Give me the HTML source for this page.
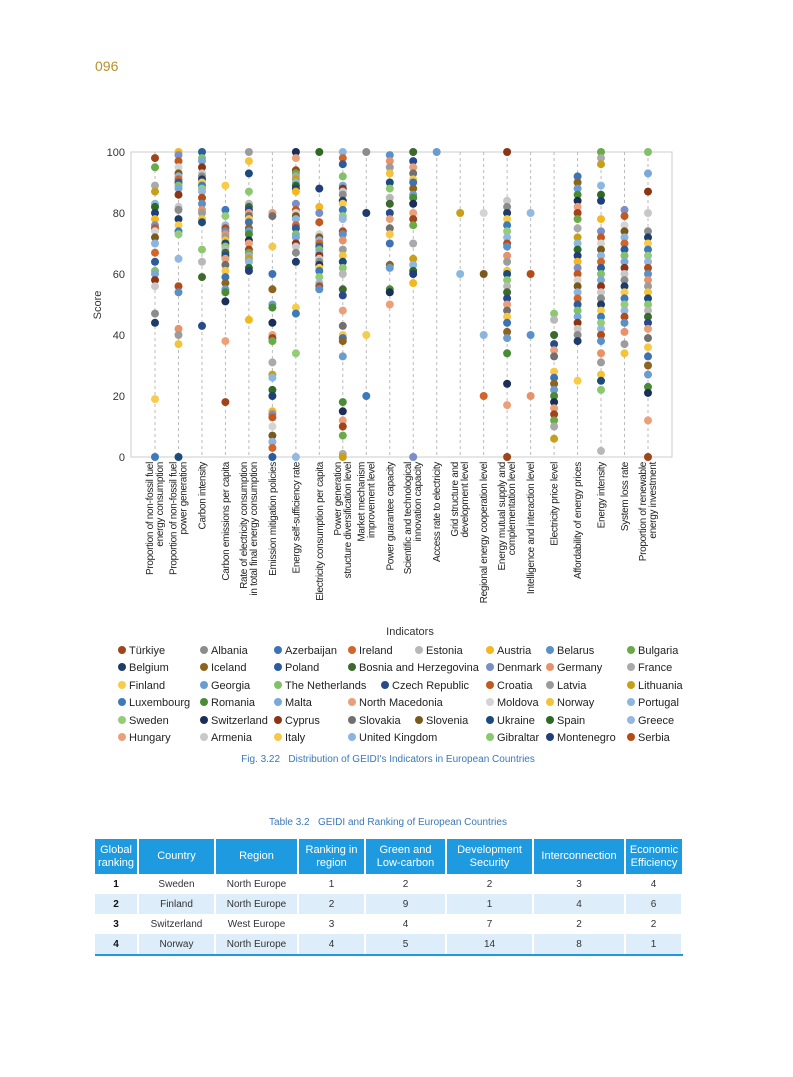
<!DOCTYPE html>
<html><head><meta charset="utf-8">
<style>
body{margin:0;background:#fff;font-family:"Liberation Sans",sans-serif;}
#pg{position:relative;width:793px;height:1077px;overflow:hidden;}
.abs{position:absolute;}
table{border-collapse:collapse;position:absolute;left:95px;top:839px;width:588px;font-size:10px;color:#333;}
th{background:#1e9be0;color:#fff;font-weight:normal;font-size:11px;line-height:13px;height:35px;border-right:2px solid #fff;padding:0;}
th:last-child{border-right:none}
td{text-align:center;height:20px;padding:0;border-right:2px solid #fff;}
tr.b td{background:#ddeefa;}
td:first-child{font-weight:bold;color:#111}
tr:last-child td{border-bottom:2px solid #1e9be0;}
</style></head><body><div id="pg">
<div class="abs" style="left:95px;top:58px;font-size:14px;color:#b8902a;">096</div>
<svg id="ch" class="abs" style="left:0;top:0" width="793" height="760" font-family="Liberation Sans, sans-serif"></svg>
<div class="abs" style="left:0;width:776px;text-align:center;top:754px;font-size:10px;color:#3a78b8;">Fig. 3.22&nbsp;&nbsp;&nbsp;Distribution of GEIDI's Indicators in European Countries</div>
<div class="abs" style="left:0;width:776px;text-align:center;top:817px;font-size:10px;color:#3a78b8;">Table 3.2&nbsp;&nbsp;&nbsp;GEIDI and Ranking of European Countries</div>
<table>
<tr><th style="width:42px">Global<br>ranking</th><th style="width:75px">Country</th><th style="width:81px">Region</th><th style="width:65px">Ranking in<br>region</th><th style="width:79px">Green and<br>Low-carbon</th><th style="width:85px">Development<br>Security</th><th style="width:90px">Interconnection</th><th>Economic<br>Efficiency</th></tr>
<tr><td>1</td><td>Sweden</td><td>North Europe</td><td>1</td><td>2</td><td>2</td><td>3</td><td>4</td></tr>
<tr class="b"><td>2</td><td>Finland</td><td>North Europe</td><td>2</td><td>9</td><td>1</td><td>4</td><td>6</td></tr>
<tr><td>3</td><td>Switzerland</td><td>West Europe</td><td>3</td><td>4</td><td>7</td><td>2</td><td>2</td></tr>
<tr class="b"><td>4</td><td>Norway</td><td>North Europe</td><td>4</td><td>5</td><td>14</td><td>8</td><td>1</td></tr>
</table>
</div>
<script>
var S=document.getElementById('ch'),h='';
var X0=131,X1=672,Y0=457,Y1=152;
function y(v){return Y0-(Y0-Y1)*v/100;}
h+='<rect x="'+X0+'" y="'+Y1+'" width="'+(X1-X0)+'" height="'+(Y0-Y1)+'" fill="none" stroke="#ccc"/>';
for(var t=0;t<=100;t+=20){h+='<text x="125" y="'+(y(t)+4)+'" font-size="11" text-anchor="end" fill="#333">'+t+'</text>';}
h+='<text transform="translate(101,305) rotate(-90)" font-size="11" text-anchor="middle" fill="#333">Score</text>';
h+='<text x="410" y="635" font-size="11" text-anchor="middle" fill="#333">Indicators</text>';
var labs=[["Proportion of non-fossil fuel","energy consumption"],["Proportion of non-fossil fuel","power generation"],["Carbon intensity"],["Carbon emissions per capita"],["Rate of electricity consumption","in total final energy consumption"],["Emission mitigation policies"],["Energy self-sufficiency rate"],["Electricity consumption per capita"],["Power generation","structure diversification level"],["Market mechanism","improvement level"],["Power guarantee capacity"],["Scientific and technological","innovation capacity"],["Access rate to electricity"],["Grid structure and","development level"],["Regional energy cooperation level"],["Energy mutual supply and","complementation level"],["Intelligence and interaction level"],["Electricity price level"],["Affordability of energy prices"],["Energy intensity"],["System loss rate"],["Proportion of renewable","energy investment"]];
var D=[[98,95,89,87,83,82,80,78,76,75,74,72,70,67,64,61,60,58,56,47,44,19,0],
[100,99,97,95,93,92,91,90,89,88,86,82,81,78,76,74,73,65,56,54,42,40,37,0],
[100,98,97,95,93,92,91,90,89,88,87,85,83,81,80,78,77,68,64,59,43],
[89,81,79,76,75,74,73,72,71,70,69,68,67,66,65,63,61,59,57,55,54,51,38,18],
[100,97,93,87,83,82,81,80,79,78,77,75,74,73,71,70,68,67,66,65,64,62,61,45],
[80,79,69,60,55,50,49,44,40,39,38,31,27,26,22,20,15,14,13,10,7,5,3,0],
[100,98,94,93,92,91,90,89,88,87,83,81,80,79,78,76,75,73,72,70,69,67,64,49,47,34,0],
[100,88,82,80,77,73,72,71,70,69,68,67,66,65,64,63,62,61,59,57,56,55],
[100,98,96,92,89,88,87,86,84,83,81,79,78,74,73,71,68,66,64,62,60,55,53,48,43,40,39,38,33,18,15,12,10,7,1,0],
[100,80,40,20],
[99,97,95,93,90,88,85,83,80,78,75,73,70,63,62,55,54,50],
[100,97,95,93,91,90,88,86,85,83,80,78,76,70,65,63,61,60,57,0],
[100],[80,60],[80,60,40,20],
[100,84,82,80,78,76,74,72,70,69,66,64,61,60,58,56,54,52,50,48,46,44,41,39,34,24,17,0],
[80,60,40,20],
[47,45,40,37,35,33,28,26,24,22,20,18,16,14,12,10,6],
[92,90,88,86,84,82,80,78,75,72,70,68,66,64,62,60,58,56,54,52,50,48,46,44,42,40,38,25],
[100,98,96,89,86,84,78,74,72,70,68,66,64,62,60,58,56,54,52,50,48,46,44,42,40,38,34,31,27,25,22,2],
[81,79,76,74,72,70,68,66,64,62,60,58,56,54,52,50,48,46,44,41,37,34],
[100,93,87,80,74,72,70,68,66,64,62,60,58,56,54,52,50,48,46,44,42,39,36,33,30,27,23,21,12,0]];
var cmap={"Türkiye":"#a0441c","Albania":"#8c8c8c","Azerbaijan":"#3d72b4","Ireland":"#d2662a","Estonia":"#b8b8b8","Austria":"#f2b81e","Belarus":"#5a90c8","Bulgaria":"#6aaa48",
"Belgium":"#1e3c6a","Iceland":"#8c6420","Poland":"#2c5c9c","Bosnia and Herzegovina":"#3c6a2c","Denmark":"#7a8ec8","Germany":"#e8926a","France":"#aaaaaa",
"Finland":"#f7cc48","Georgia":"#6a9cd0","The Netherlands":"#82c06a","Czech Republic":"#284a8c","Croatia":"#c25a20","Latvia":"#9c9c9c","Lithuania":"#c8a018",
"Luxembourg":"#3c7abc","Romania":"#4a8c34","Malta":"#7aa8d8","North Macedonia":"#e8a07a","Moldova":"#d4d4d4","Norway":"#f2c43a","Portugal":"#8ab8e0",
"Sweden":"#94cc78","Switzerland":"#1a2e58","Cyprus":"#8c3414","Slovakia":"#707070","Slovenia":"#7a5a1c","Ukraine":"#1c4a7c","Spain":"#2e6a24","Greece":"#94b8e0",
"Hungary":"#eca07a","Armenia":"#c8c8c8","Italy":"#f7c848","United Kingdom":"#8cb4e0","Gibraltar":"#8cc870","Montenegro":"#213e78","Serbia":"#b44c18"};
var cols=Object.keys(cmap).map(function(k){return cmap[k]});
var dx=(648-155)/21;
for(var i=0;i<22;i++){var x=155+dx*i;
 h+='<line x1="'+x+'" y1="'+Y1+'" x2="'+x+'" y2="'+Y0+'" stroke="#bbb" stroke-dasharray="3,3"/>';
 D[i].forEach(function(v,k){h+='<circle cx="'+x.toFixed(1)+'" cy="'+y(v).toFixed(1)+'" r="4" fill="'+cols[(k*7+i*5)%cols.length]+'"/>';});
 var L=labs[i];
 if(L.length==1){h+='<text transform="translate('+(x+3.5)+',462) rotate(-90)" font-size="10" text-anchor="end" fill="#222" letter-spacing="-0.3">'+L[0]+'</text>';}
 else{h+='<text transform="translate('+(x-2)+',462) rotate(-90)" font-size="10" text-anchor="end" fill="#222" letter-spacing="-0.3">'+L[0]+'</text>';
      h+='<text transform="translate('+(x+8)+',462) rotate(-90)" font-size="10" text-anchor="end" fill="#222" letter-spacing="-0.3">'+L[1]+'</text>';}
}
var ly=[650,667,685,702,720,737];
var rows=[[["Türkiye",122],["Albania",204],["Azerbaijan",278],["Ireland",352],["Estonia",419],["Austria",490],["Belarus",550],["Bulgaria",631]],
[["Belgium",122],["Iceland",204],["Poland",278],["Bosnia and Herzegovina",352],["Denmark",490],["Germany",550],["France",631]],
[["Finland",122],["Georgia",204],["The Netherlands",278],["Czech Republic",385],["Croatia",490],["Latvia",550],["Lithuania",631]],
[["Luxembourg",122],["Romania",204],["Malta",278],["North Macedonia",352],["Moldova",490],["Norway",550],["Portugal",631]],
[["Sweden",122],["Switzerland",204],["Cyprus",278],["Slovakia",352],["Slovenia",419],["Ukraine",490],["Spain",550],["Greece",631]],
[["Hungary",122],["Armenia",204],["Italy",278],["United Kingdom",352],["Gibraltar",490],["Montenegro",550],["Serbia",631]]];
rows.forEach(function(r,ri){r.forEach(function(e){
 h+='<circle cx="'+e[1]+'" cy="'+ly[ri]+'" r="4" fill="'+cmap[e[0]]+'"/><text x="'+(e[1]+7)+'" y="'+(ly[ri]+4)+'" font-size="11" fill="#222">'+e[0]+'</text>';});});
S.innerHTML=h;
</script>
</body></html>
